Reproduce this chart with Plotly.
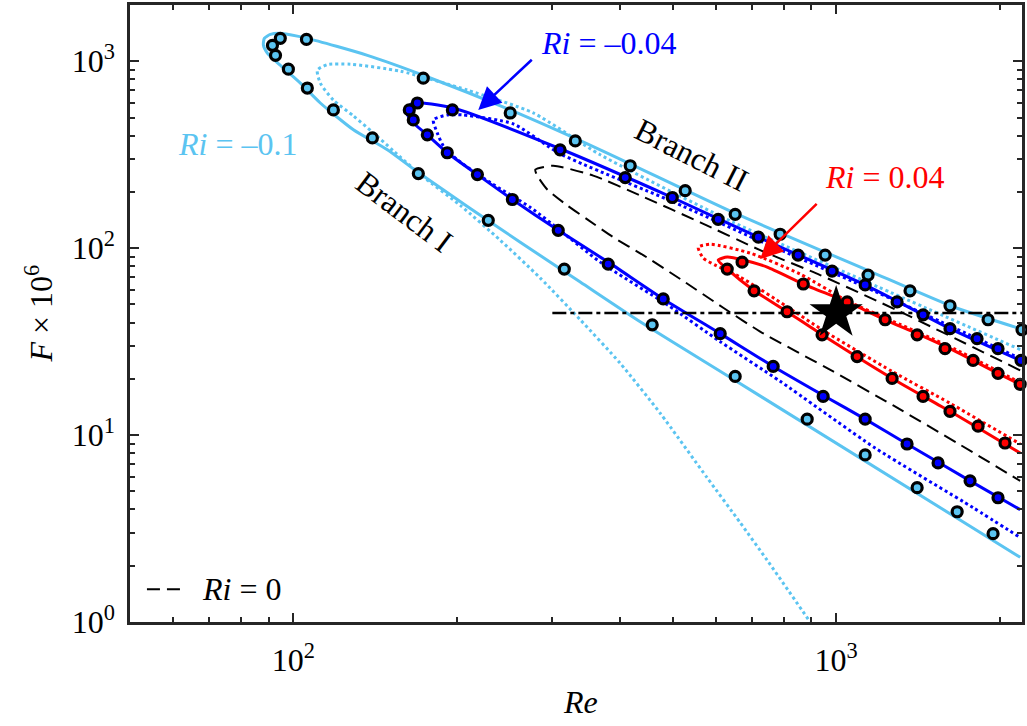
import numpy as np
import plotly.graph_objects as go

# ---------------- data (Re, F x 1e6) ----------------
# Ri = -0.1, solid curve (lower branch from right -> nose -> upper branch to right)
LB_SOLID_RE = [2183, 646, 435.5, 337.7, 261.8, 209.2, 169.9, 149.0, 129.0, 112.1, 103.0, 94.6, 89.6, 88.06,
               88.4, 90.7, 95.4, 106.1, 136.9, 173.5, 250.9, 367.6, 646, 1140, 1642, 2183]
LB_SOLID_F = [2.22, 19.9, 40.4, 65.9, 107.6, 167.3, 254, 336, 430, 598, 764, 952, 1103, 1217,
              1326, 1392, 1409, 1326, 1076, 842, 549, 336, 155.4, 76.4, 48.6, 37.1]
# Ri = -0.1, dotted curve
LB_DOT_RE = [2183, 1140, 646, 367.6, 276.7, 209.2, 157.4, 127.4, 115.5, 110.7, 112.1, 118.5, 129.0, 140.4,
             152.8, 171.4, 203.0, 240.5, 285.0, 337.7, 400.1, 474.1, 578.6, 665.6, 746.4, 895.6]
LB_DOT_F = [28.7, 65.9, 137.5, 316, 529, 701, 885, 964, 960, 896, 764, 620, 510, 414,
            332, 247.5, 169.3, 110.3, 69.2, 41.4, 24.2, 13.09, 5.91, 3.40, 2.14, 1.0]
LB_PTS_RE = [91.5, 94.6, 105.7, 92.7, 97.9, 106.1, 118.5, 139.8, 169.9, 228.6, 315.6, 458.3, 651.6, 884.4,
             1131, 1410, 1671, 1946, 173.5, 250.9, 330.7, 417.4, 527.1, 651.6, 788.6, 954.4, 1145, 1368,
             1621, 1905, 2200]
LB_PTS_F = [1217, 1326, 1309, 1076, 907, 719, 549, 389, 250.6, 140.9, 77.3, 38.9, 20.6, 12.17,
            7.83, 5.23, 3.89, 2.97, 812, 529, 375, 276, 203, 151.7, 118.7, 91.8, 71.8, 59.1,
            49.2, 41.4, 36.6]

# Ri = -0.04
BL_SOLID_RE = [2183, 1621, 1131, 719, 499, 310, 197.1, 166.3, 160.8, 166.3, 176.5, 192.1, 218.3, 253.2,
               307.6, 380.2, 480.2, 611.5, 765.6, 954.4, 1131, 1351, 1765, 2183]
BL_SOLID_F = [25.1, 37.1, 63.6, 114.5, 186.7, 340.4, 562, 598, 549, 468, 404, 324, 247.5, 182.2,
              124.6, 84.2, 53.5, 34.9, 23.3, 16.1, 12.17, 8.96, 5.69, 3.99]
BL_DOT_RE = [2183, 1131, 719, 499, 310, 254.2, 205.6, 192.1, 181.1, 184.1, 188.9, 200.4, 230.6, 273.3,
             310, 367.6, 488.6, 611.5, 788.6, 1180, 1788, 2183]
BL_DOT_F = [25.7, 62.0, 110.3, 177.8, 320, 462, 516, 516, 485.7, 414, 353, 297.4, 224.4, 165.2,
            124.6, 84.2, 49.8, 31.6, 19.4, 8.53, 4.09, 2.83]
BL_PTS_RE = [169.2, 163.5, 166.3, 176.5, 192.1, 218.3, 253.2, 307.6, 380.2, 480.2, 611.5, 765.6, 946.4,
             1131, 1351, 1541, 1765, 1987, 196.3, 310, 408.7, 499, 606.3, 719, 851, 983, 1131, 1295,
             1446, 1621, 1818, 1987, 2191]
BL_PTS_F = [598, 549, 485.7, 404, 324, 247.5, 182.2, 124.6, 82.2, 53.5, 34.9, 23.3, 16.1,
            12.17, 8.96, 7.10, 5.69, 4.62, 549, 336, 238.6, 186.7, 142.7, 114.5, 91.8, 75.4, 63.6, 51.6,
            44.0, 37.1, 32.8, 29.0, 25.1]

# Ri = 0 (dashed)
R0_RE = [2183, 1312, 934.4, 724.4, 561.6, 435.5, 356.8, 301.1, 279.1, 281.4, 293.6, 319.6, 347.9, 388.4,
         441.1, 516.2, 619.4, 724.4, 987.4, 1274, 1671, 2183]
R0_F = [22.2, 45.7, 71.8, 97.6, 137.5, 191.4, 244.5, 276, 263.2, 244.5, 206, 169.3, 142.7, 114.5,
        91.8, 68.4, 48.0, 35.8, 21.9, 14.4, 9.07, 5.69]

# Ri = 0.04
RD_SOLID_RE = [2183, 2047, 1621, 1268, 942.3, 812.4, 703.3, 630.2, 606.3, 630.2, 674.3, 746.4, 869.5,
               1048, 1231, 1410, 1621, 1987, 2183]
RD_SOLID_F = [8.02, 8.96, 13.4, 20.1, 34.4, 45.7, 59.8, 77.3, 86.4, 89.6, 86.4, 79.2, 64.3,
              51.6, 41.4, 34.9, 29.0, 21.4, 18.7]
RD_DOT_RE = [2183, 1621, 1231, 1048, 858.5, 694.4, 586.1, 557, 569, 598.6, 665.6, 812.4, 942.3, 1268,
             1621, 2183]
RD_DOT_F = [19.1, 29.7, 42.4, 52.3, 72.7, 94.1, 105, 101.2, 88.5, 81.2, 70.1, 48.6, 36.6, 21.9,
            14.8, 8.96]
RD_PTS_RE = [671, 630, 706, 812, 942, 870, 1048, 1231, 1410, 1587, 1788, 1987, 2183, 1093, 1268, 1446,
             1621, 1826, 2047]
RD_PTS_F = [84.2, 77.3, 59.1, 45.7, 34.4, 64.3, 51.6, 41.4, 34.4, 29.0, 25.1, 21.4, 18.7, 26.3, 20.1, 16.1,
            13.4, 11.16, 9.07]

# operating line and point
HLINE_RE = [300, 2200]
HLINE_F = [45, 45]
STAR_RE = [1000]
STAR_F = [45]

X_MAJOR = [100, 1000]
X_MAJOR_TXT = ["10<sup>2</sup>", "10<sup>3</sup>"]
X_MINOR = [60, 70, 80, 90, 200, 300, 400, 500, 600, 700, 800, 900, 2000]
Y_MAJOR = [1, 10, 100, 1000]
Y_MAJOR_TXT = ["10<sup>0</sup>", "10<sup>1</sup>", "10<sup>2</sup>", "10<sup>3</sup>"]
Y_MINOR = [m * d for d in (1, 10, 100) for m in range(2, 10)] + [2000]

# ---------------- style ----------------
LB = "#5BC4F1"
BLUE = "#0000FF"
RED = "#FF0000"
AX = "#262626"
FONT = "Liberation Serif, Times New Roman, serif"

fig = go.Figure()


def line(xs, ys, color, dash, width=3):
    fig.add_trace(go.Scatter(x=xs, y=ys, mode="lines", line=dict(color=color, width=width, dash=dash,
                                                                  shape="spline", smoothing=0.6),
                             showlegend=False, hoverinfo="skip"))


def pts(xs, ys, color):
    fig.add_trace(go.Scatter(x=xs, y=ys, mode="markers", cliponaxis=False,
                             marker=dict(size=10, color=color, line=dict(color="black", width=3.2)),
                             showlegend=False, hoverinfo="skip"))


line(R0_RE, R0_F, "black", "13px,7px", 2)
line(LB_SOLID_RE, LB_SOLID_F, LB, "solid")
line(LB_DOT_RE, LB_DOT_F, LB, "dot")
line(BL_SOLID_RE, BL_SOLID_F, BLUE, "solid")
line(BL_DOT_RE, BL_DOT_F, BLUE, "dot")
line(RD_SOLID_RE, RD_SOLID_F, RED, "solid")
line(RD_DOT_RE, RD_DOT_F, RED, "dot")
fig.add_trace(go.Scatter(x=HLINE_RE, y=HLINE_F, mode="lines",
                         line=dict(color="black", width=2.5, dash="14px,4px,4px,4px"),
                         showlegend=False, hoverinfo="skip"))
pts(LB_PTS_RE, LB_PTS_F, LB)
pts(BL_PTS_RE, BL_PTS_F, BLUE)
pts(RD_PTS_RE, RD_PTS_F, RED)
fig.add_trace(go.Scatter(x=STAR_RE, y=STAR_F, mode="markers",
                         marker=dict(symbol="star", size=40, color="black", line=dict(width=0)),
                         showlegend=False, hoverinfo="skip"))

L = np.log10


def arrow(tip, tail, color):
    fig.add_annotation(x=L(tip[0]), y=L(tip[1]), ax=L(tail[0]), ay=L(tail[1]), xref="x", yref="y",
                       axref="x", ayref="y", text="", showarrow=True, arrowhead=2, arrowsize=1.8,
                       arrowwidth=2.5, arrowcolor=color, standoff=0)


arrow((219.1, 549), (276.7, 1037), BLUE)
arrow((724.4, 87.4), (926.6, 175.6), RED)


def label(text, x, y, color="black", angle=0, size=32, xanchor="center"):
    fig.add_annotation(x=x, y=y, xref="paper", yref="paper", text=text, showarrow=False,
                       textangle=angle, xanchor=xanchor, yanchor="middle",
                       font=dict(family=FONT, size=size, color=color))


label("<i>Ri</i> = –0.04", 0.536, 0.939, BLUE)
label("<i>Ri</i> = 0.04", 0.846, 0.721, RED)
label("<i>Ri</i> = –0.1", 0.12, 0.774, LB)
label("Branch II", 0.630, 0.757, angle=27)
label("Branch I", 0.308, 0.665, angle=37)
label("<i>Ri</i> = 0", 0.078, 0.053, xanchor="left")
label("<i>Re</i>", 0.5045, -0.129)
label("<i>F</i> × 10<sup>6</sup>", -0.103, 0.5, angle=-90)

fig.add_shape(type="line", xref="paper", yref="paper", x0=0.019, x1=0.0628, y0=0.053, y1=0.053,
              line=dict(color="black", width=2, dash="13px,7px"))

axis_common = dict(type="log", showgrid=False, zeroline=False, showline=True, linecolor=AX, linewidth=2.5,
                   mirror="ticks", ticks="inside", ticklen=9, tickwidth=2, tickcolor=AX,
                   tickfont=dict(family=FONT, size=32, color="black"))

fig.update_xaxes(range=[L(50), L(2200)], tickmode="array", tickvals=X_MAJOR, ticktext=X_MAJOR_TXT,
                 minor=dict(tickmode="array", tickvals=X_MINOR, ticks="inside", ticklen=5, tickwidth=2,
                            tickcolor=AX, showgrid=False),
                 ticklabelstandoff=8, **axis_common)
fig.update_yaxes(range=[0, L(2000)], tickmode="array", tickvals=Y_MAJOR, ticktext=Y_MAJOR_TXT,
                 minor=dict(tickmode="array", tickvals=Y_MINOR, ticks="inside", ticklen=5, tickwidth=2,
                            tickcolor=AX, showgrid=False),
                 ticklabelstandoff=6, **axis_common)

fig.update_layout(width=1027, height=726, margin=dict(l=130, r=5, t=2, b=104),
                  plot_bgcolor="white", paper_bgcolor="white", showlegend=False)

fig.write_html("out.html")
